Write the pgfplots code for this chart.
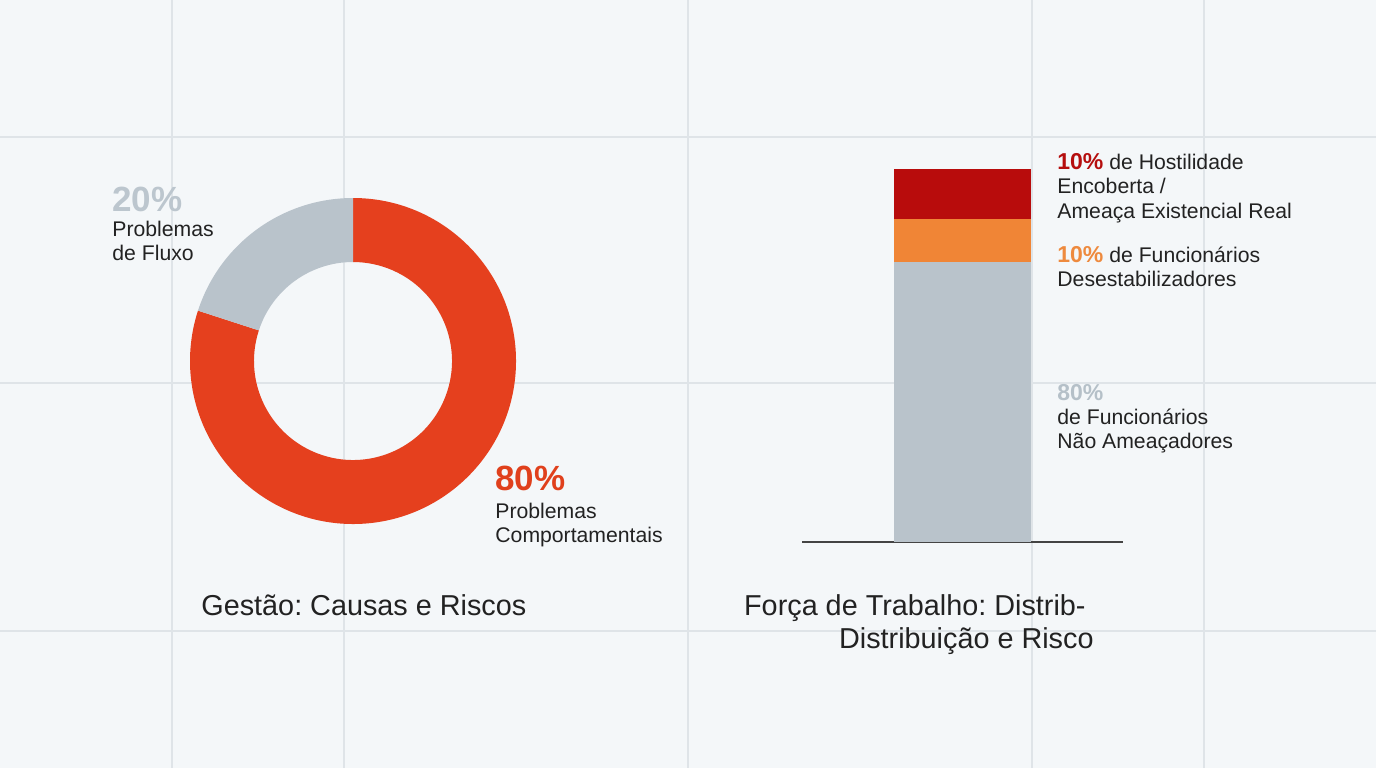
\documentclass[border=0pt]{standalone}
\usepackage{pgfplots}
\pgfplotsset{compat=1.18}
\usepackage{pgfplotstable}
\usepackage{fontspec}
\setmainfont{Liberation Sans}
\usetikzlibrary{calc}
\frenchspacing

\definecolor{bg}{HTML}{F4F7F9}
\definecolor{gridc}{HTML}{DFE4E8}
\definecolor{donutred}{HTML}{E5401E}
\definecolor{donutgray}{HTML}{B9C3CB}
\definecolor{barred}{HTML}{B80C0C}
\definecolor{barorange}{HTML}{F08536}
\definecolor{bargray}{HTML}{B9C3CB}
\definecolor{txt}{HTML}{222222}
\definecolor{lbl20}{HTML}{BCC6CE}
\definecolor{lbl80}{HTML}{E0401C}
\definecolor{lblred}{HTML}{B50E0E}
\definecolor{lblorange}{HTML}{EE8A3E}
\definecolor{lblgray}{HTML}{B5C0C8}
\definecolor{axisc}{HTML}{444444}

\pgfplotstableread{
cat pct
Comportamentais 80
Fluxo 20
}\donutdata

\pgfplotstableread{
x nao desest host
0.5 75 11.5 13.5
}\bardata

\begin{document}
\begin{tikzpicture}
\pgfplotstablegetelem{0}{pct}\of\donutdata \edef\pA{\pgfplotsretval}
\pgfplotstablegetelem{1}{pct}\of\donutdata \edef\pB{\pgfplotsretval}
\begin{scope}[x=0.5bp,y=-0.5bp]
\useasboundingbox (0,0) rectangle (1376,768);
\fill[bg] (0,0) rectangle (1376,768);
\foreach \x in {172,344,688,1032,1204} \draw[gridc, line width=0.6bp] (\x,0) -- (\x,768);
\foreach \y in {137,383,631} \draw[gridc, line width=0.75bp] (0,\y) -- (1376,\y);
\end{scope}

% Donut
\begin{axis}[at={(176.5bp,-180.5bp)}, anchor=center, width=163bp, height=163bp,
  scale only axis, xmin=-1, xmax=1, ymin=-1, ymax=1, hide axis, clip=false]
\fill[donutred] ($(axis cs:0,0)+(90:81.5bp)$) arc[start angle=90, end angle={90-3.6*\pA}, radius=81.5bp]
  -- ($(axis cs:0,0)+({90-3.6*\pA}:49.5bp)$) arc[start angle={90-3.6*\pA}, end angle=90, radius=49.5bp] -- cycle;
\fill[donutgray] ($(axis cs:0,0)+(90:81.5bp)$) arc[start angle=90, end angle={90+3.6*\pB}, radius=81.5bp]
  -- ($(axis cs:0,0)+({90+3.6*\pB}:49.5bp)$) arc[start angle={90+3.6*\pB}, end angle=90, radius=49.5bp] -- cycle;
\end{axis}

% Stacked bar
\begin{axis}[at={(401bp,-271bp)}, anchor=south west, scale only axis,
  width=160.5bp, height=186.5bp, xmin=0, xmax=1, ymin=0, ymax=100,
  ybar stacked, bar width=68.5bp, axis x line=bottom, axis y line=none,
  xtick=\empty, ytick=\empty, enlargelimits=false, clip=false,
  axis line style={draw=axisc, line width=0.6bp, -}]
\addplot[fill=bargray, draw=none] table[x=x, y=nao]{\bardata};
\addplot[fill=barorange, draw=none] table[x=x, y=desest]{\bardata};
\addplot[fill=barred, draw=none] table[x=x, y=host]{\bardata};
\end{axis}

\begin{scope}[x=0.5bp,y=-0.5bp, every node/.style={anchor=base west, inner sep=0pt, text=txt}]
\def\lbl{\fontsize{10.6bp}{12bp}\selectfont}
\def\big{\fontsize{17.5bp}{20bp}\selectfont\bfseries}
\def\mid{\fontsize{11.5bp}{13bp}\selectfont\bfseries}
\def\ttl{\fontsize{14.4bp}{16bp}\selectfont}
% donut labels
\node[text=lbl20] at (112,211) {\big 20\%};
\node at (112,236) {\lbl Problemas};
\node at (112,260) {\lbl de Fluxo};
\node[text=lbl80] at (495,490) {\big 80\%};
\node at (495,518) {\lbl Problemas};
\node at (495,542) {\lbl Comportamentais};
% bar labels
\node at (1057,169) {\textcolor{lblred}{\mid 10\%}\lbl{} de Hostilidade};
\node at (1057,193) {\lbl Encoberta /};
\node at (1057,218) {\lbl Ameaça Existencial Real};
\node at (1057,262) {\textcolor{lblorange}{\mid 10\%}\lbl{} de Funcionários};
\node at (1057,286) {\lbl Desestabilizadores};
\node[text=lblgray] at (1057,400) {\mid 80\%};
\node at (1057,424) {\lbl de Funcionários};
\node at (1057,448) {\lbl Não Ameaçadores};
% titles
\node at (201,615) {\ttl Gestão: Causas e Riscos};
\node[anchor=base east] at (1086,615) {\ttl Força de Trabalho: Distrib-};
\node[anchor=base east] at (1094,648) {\ttl Distribuição e Risco};
\end{scope}
\end{tikzpicture}
\end{document}
